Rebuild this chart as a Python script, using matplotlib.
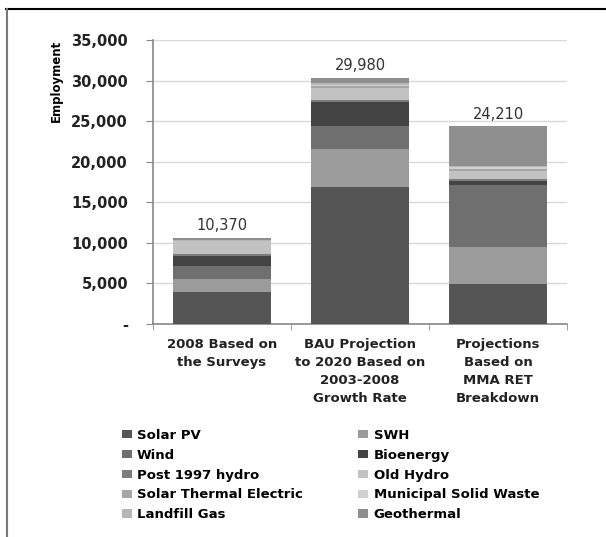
import matplotlib
matplotlib.use("Agg")
import matplotlib.pyplot as plt
from matplotlib.lines import Line2D
from matplotlib.patches import Patch
import numpy as np

categories = ["2008 Based on\nthe Surveys",
              "BAU Projection\nto 2020 Based on\n2003-2008\nGrowth Rate",
              "Projections\nBased on\nMMA RET\nBreakdown"]
series_names = ["Solar PV", "SWH", "Wind", "Bioenergy", "Post 1997 hydro", "Old Hydro",
                "Solar Thermal Electric", "Municipal Solid Waste", "Landfill Gas", "Geothermal"]
solar_pv = [3900, 16870, 4900]
swh = [1650, 4690, 4650]
wind = [1650, 2800, 7610]
bioenergy = [1230, 2960, 410]
post1997_hydro = [200, 250, 330]
old_hydro = [1560, 1560, 990]
solar_thermal = [0, 160, 200]
msw = [0, 200, 200]
landfill = [150, 200, 200]
geothermal = [300, 620, 4860]
total_labels = ["10,370", "29,980", "24,210"]
yticks = [0, 5000, 10000, 15000, 20000, 25000, 30000, 35000]
ytick_labels = ["-", "5,000", "10,000", "15,000", "20,000", "25,000", "30,000", "35,000"]

colors = ["#555555", "#9b9b9b", "#6f6f6f", "#434343", "#7d7d7d", "#c2c2c2",
          "#a6a6a6", "#d0d0d0", "#b6b6b6", "#8f8f8f"]

series = [solar_pv, swh, wind, bioenergy, post1997_hydro, old_hydro,
          solar_thermal, msw, landfill, geothermal]

fig = plt.figure(figsize=(6.06, 5.37), dpi=100)
ax = fig.add_axes([153/606, 1-324/537, 414/606, 284/537])

x = np.arange(len(categories))
bottom = np.zeros(len(categories))
for name, vals, c in zip(series_names, series, colors):
    ax.bar(x, vals, width=0.71, bottom=bottom, color=c, label=name, zorder=3)
    bottom += np.array(vals)

for xi, top, lab in zip(x, bottom, total_labels):
    ax.text(xi, top + 600, lab, ha="center", va="bottom", fontsize=10.5, color="#333333")

ax.set_xlim(-0.5, 2.5)
ax.set_ylim(0, 35000)
ax.set_yticks(yticks)
ax.set_yticklabels(ytick_labels, fontsize=10.5, fontweight="bold", color="#222222")
ax.yaxis.grid(True, color="#d9d9d9", linewidth=1.0, zorder=0)
ax.set_xticks(x)
ax.set_xticklabels(categories, fontsize=9.5, fontweight="bold", color="#222222",
                   linespacing=1.5)
ax.tick_params(axis="x", length=0, pad=10)
ax.set_xticks([-0.5, 0.5, 1.5, 2.5], minor=True)
ax.tick_params(axis="x", which="minor", length=4, color="#888888", direction="out")
ax.tick_params(axis="y", length=5, color="#888888", pad=13)
for s in ["top", "right"]:
    ax.spines[s].set_visible(False)
for s in ["left", "bottom"]:
    ax.spines[s].set_color("#888888")
    ax.spines[s].set_linewidth(1.2)

ax.set_ylabel("Employment", fontsize=8.5, fontweight="bold")
ax.yaxis.set_label_coords(-0.218, 0.855)

order = [0, 2, 4, 6, 8, 1, 3, 5, 7, 9]
handles = [Patch(facecolor=colors[i], edgecolor="none") for i in order]
labels = [series_names[i] for i in order]
fig.legend(handles, labels, ncol=2, loc="upper left", bbox_to_anchor=(110/606, 1-417/537),
           frameon=False, prop={"weight": "bold", "size": 9.5},
           handlelength=0.75, handleheight=0.6, handletextpad=0.4,
           columnspacing=4.2, labelspacing=0.52)

fig.add_artist(Line2D([6/606, 1], [1-9/537, 1-9/537], color="black", linewidth=1.5))
fig.add_artist(Line2D([7/606, 7/606], [0, 1-9/537], color="#777777", linewidth=1.5))

fig.savefig("out.png", dpi=100)
